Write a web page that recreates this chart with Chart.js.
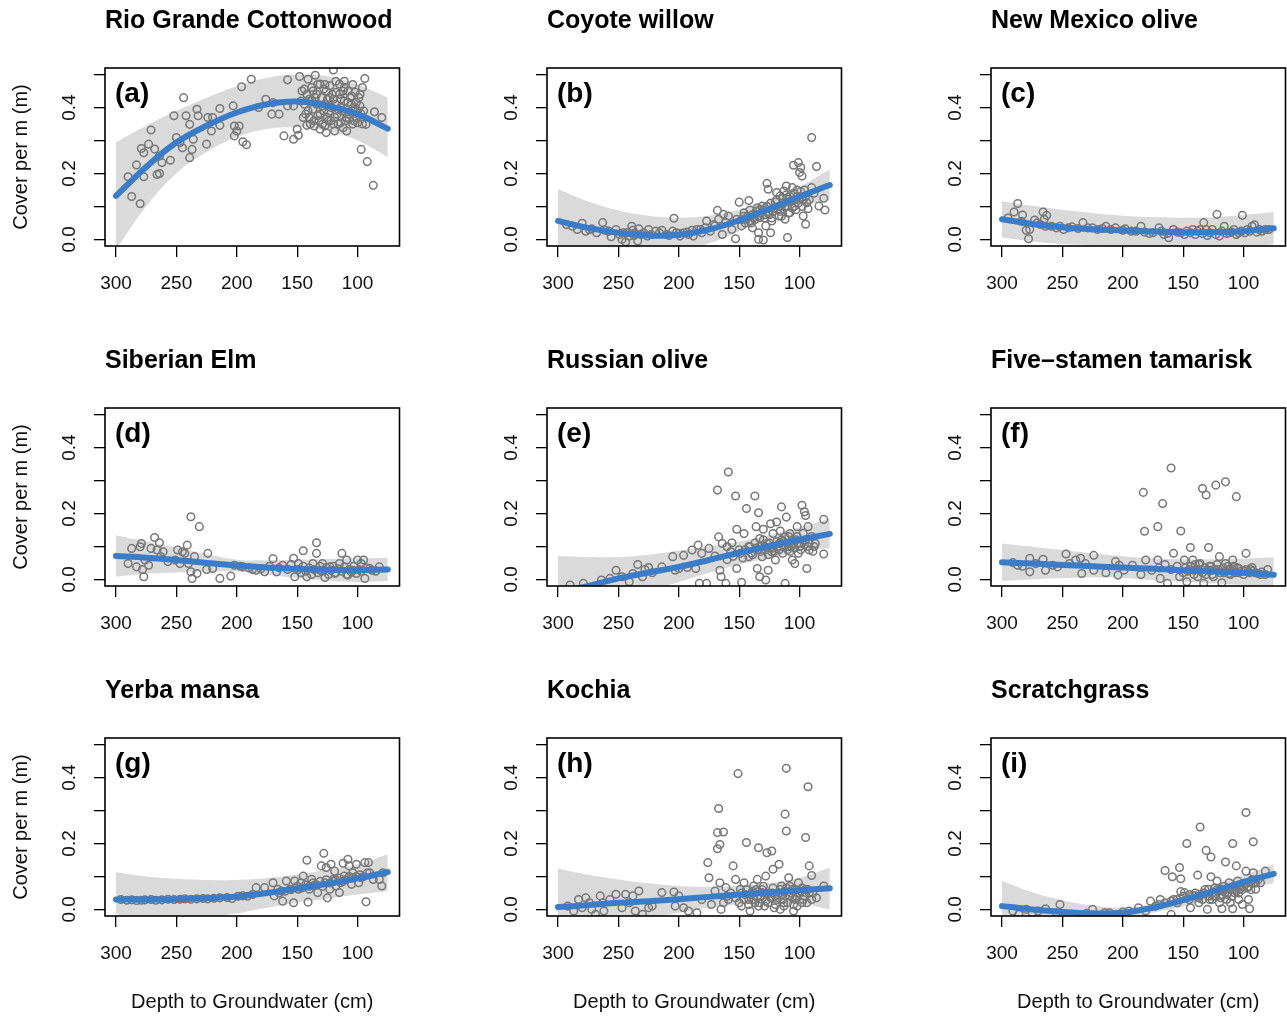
<!DOCTYPE html>
<html lang="en">
<head>
<meta charset="UTF-8">
<title>Cover per m vs depth to groundwater</title>
<script src="https://cdn.jsdelivr.net/npm/chart.js@4.4.1/dist/chart.umd.min.js"></script>
<style>
  html, body { margin: 0; padding: 0; background: #fff; }
  #grid { position: relative; width: 1287px; height: 1016px; overflow: hidden; }
  .panel { position: absolute; }
</style>
</head>
<body>
<div id="grid"></div>
<script>
// ticks shared by every panel
const xTicks = [300, 250, 200, 150, 100];
const yTicks = [0, 0.1, 0.2, 0.3, 0.4, 0.5];
const yTickLabels = ["0.0", "", "0.2", "", "0.4", ""];

const fitDepth = [300, 275, 250, 225, 200, 175, 150, 125, 100, 75];

// (a) Rio Grande Cottonwood
const fitA = [0.132, 0.22, 0.294, 0.345, 0.385, 0.41, 0.418, 0.405, 0.38, 0.336];
const upperA = [0.295, 0.345, 0.39, 0.43, 0.465, 0.49, 0.5, 0.495, 0.47, 0.43];
const lowerA = [-0.03, 0.1, 0.2, 0.265, 0.31, 0.335, 0.34, 0.33, 0.3, 0.25];
const pointsA = [
  [290,0.19],[287,0.13],[283,0.226],[280,0.108],[277,0.19],[279,0.276],[277,0.263],[273,0.289],[271,0.332],
  [268,0.274],[266,0.197],[264,0.2],[264,0.253],[262,0.233],[255,0.24],[252,0.375],[250,0.309],[247,0.294],
  [245,0.278],[244,0.43],[242,0.375],[239,0.248],[239,0.349],[237,0.273],[236,0.304],[233,0.395],[232,0.375],
  [225,0.289],[224,0.37],[221,0.329],[220,0.37],[214,0.397],[214,0.346],[203,0.405],[202,0.344],[202,0.314],
  [200,0.329],[198,0.344],[196,0.463],[195,0.296],[192,0.287],[188,0.486],[182,0.4],[176,0.425],[171,0.38],
  [170,0.415],[165,0.38],[161,0.314],[158,0.484],[158,0.405],[153,0.405],[153,0.304],[150,0.334],[149,0.316],
  [148,0.494],[147,0.42],[145,0.37],[144,0.456],[142,0.346],[141,0.486],[140,0.425],[138,0.461],[137,0.395],
  [136,0.344],[135,0.498],[134,0.44],[133,0.375],[131,0.471],[131,0.334],[129,0.405],[128,0.456],[127,0.344],
  [126,0.324],[125,0.425],[124,0.385],[123,0.466],[122,0.36],[120,0.425],[120,0.514],[119,0.329],[118,0.446],
  [116,0.395],[115,0.471],[114,0.354],[114,0.425],[112,0.339],[111,0.461],[110,0.385],[109,0.329],[108,0.415],
  [107,0.365],[105,0.435],[104,0.39],[102,0.446],[101,0.415],[100,0.354],[98,0.405],[97,0.273],[96,0.461],
  [95,0.39],[94,0.488],[93,0.349],[92,0.236],[87,0.164],[86,0.387],[80,0.37],
  [144,0.41],[142,0.44],[140,0.37],[138,0.42],[137,0.45],[136,0.36],[134,0.41],[133,0.47],[131,0.38],
  [130,0.43],[129,0.35],[127,0.41],[126,0.45],[124,0.36],[122,0.4],[121,0.44],[119,0.37],[118,0.41],
  [116,0.35],[115,0.44],[113,0.39],[111,0.42],[110,0.36],[108,0.45],[107,0.38],[105,0.41],[104,0.35],
  [102,0.4],[101,0.37],[99,0.43],[97,0.38],[96,0.35],
  [141,0.39],[139,0.35],[135,0.43],[132,0.36],[128,0.39],[125,0.37],[123,0.43],[120,0.35],[117,0.38],
  [114,0.4],[112,0.45],[109,0.37],[106,0.43],[103,0.36],[100,0.39],[98,0.44],[146,0.45],[143,0.38],
  [127,0.47],[118,0.48],[111,0.48],[104,0.47]
];

// (b) Coyote willow
const fitB = [0.056, 0.035, 0.02, 0.012, 0.014, 0.03, 0.058, 0.093, 0.13, 0.165];
const upperB = [0.152, 0.115, 0.088, 0.072, 0.066, 0.072, 0.09, 0.12, 0.16, 0.212];
const lowerB = [-0.04, -0.045, -0.045, -0.045, -0.038, -0.012, 0.025, 0.065, 0.1, 0.118];
const pointsB = [
  [280,0.049],[288,0.04],[284,0.03],[277,0.025],[272,0.032],[268,0.02],[263,0.051],[261,0.028],[256,0.008],
  [252,0.03],[247,0.0],[246,0.02],[244,-0.008],[241,0.01],[239,0.04],[238,0.028],[236,0.018],[234,-0.005],
  [233,0.032],[229,0.02],[225,0.03],[223,0.015],[219,0.025],[214,0.028],[208,0.012],[204,0.064],[202,0.02],
  [199,0.01],[196,0.02],[192,0.015],[188,0.01],[185,0.03],[181,0.02],[177,0.056],[174,0.025],[170,0.041],
  [168,0.088],[167,0.061],[164,0.015],[163,0.076],[161,0.051],[159,0.071],[156,0.03],[153,0.002],[152,0.061],
  [150,0.113],[148,0.041],[146,0.081],[144,0.061],[142,0.118],[141,0.089],[139,0.035],[138,0.066],[135,0.096],
  [134,0.0],[134,0.02],[133,0.066],[131,0.101],[130,-0.002],[128,0.041],[127,0.17],[126,0.152],[126,0.081],
  [124,0.02],[123,0.056],[120,0.113],[119,0.142],[117,0.071],[116,0.132],[115,0.101],[113,0.147],[112,0.061],
  [111,0.162],[110,0.006],[109,0.122],[108,0.081],[106,0.157],[105,0.225],[104,0.101],[102,0.15],[101,0.233],
  [100,0.203],[99,0.218],[98,0.192],[97,0.071],[95,0.046],[94,0.111],[93,0.093],[90,0.309],[90,0.157],
  [86,0.221],[84,0.101],[80,0.125],[79,0.089],
  [148,0.06],[145,0.05],[143,0.07],[141,0.055],[139,0.075],[137,0.06],[136,0.085],[134,0.07],[132,0.08],
  [130,0.09],[129,0.065],[127,0.1],[125,0.075],[124,0.11],[122,0.085],[121,0.095],[119,0.12],[117,0.1],
  [116,0.085],[114,0.125],[113,0.11],[111,0.135],[110,0.1],[108,0.13],[107,0.115],[105,0.14],[104,0.12],
  [102,0.13],[101,0.11],[99,0.145],[97,0.12],[96,0.15],
  [293,0.045],[274,0.03],[258,0.025],[249,0.015],[243,0.02],[237,0.012],[231,0.015],[226,0.01],[216,0.02],
  [210,0.015],[205,0.025],[200,0.018],[193,0.022],[189,0.028],[182,0.03],[178,0.035],[171,0.045],
  [146,0.07],[140,0.05],[133,0.09],[128,0.075],[123,0.065],[118,0.09],[115,0.07],[112,0.1],[109,0.08],
  [106,0.095],[103,0.09],[100,0.125],[98,0.1],[95,0.13],[92,0.12],[88,0.14]
];

// (c) New Mexico olive
const fitC = [0.061, 0.047, 0.037, 0.031, 0.027, 0.024, 0.022, 0.022, 0.025, 0.034];
const upperC = [0.116, 0.102, 0.09, 0.08, 0.072, 0.068, 0.066, 0.067, 0.074, 0.083];
const lowerC = [0.006, -0.006, -0.014, -0.018, -0.018, -0.02, -0.022, -0.023, -0.024, -0.015];
const pointsC = [
  [290,0.083],[287,0.109],[283,0.074],[280,0.028],[278,0.002],[277,0.03],[273,0.059],[266,0.083],[265,0.061],
  [263,0.073],[264,0.04],[255,0.035],[249,0.03],[242,0.038],[233,0.051],[225,0.035],[214,0.04],[206,0.035],
  [198,0.032],[189,0.025],[185,0.04],[178,0.018],[170,0.035],[166,0.015],[162,0.005],[158,0.03],[152,0.02],
  [147,0.025],[142,0.03],[140,0.015],[136,0.03],[133,0.051],[130,0.012],[126,0.03],[122,0.076],[120,0.01],
  [116,0.04],[112,0.02],[108,0.03],[104,0.02],[101,0.073],[97,0.03],[93,0.04],[91,0.044],[87,0.03],[82,0.03],
  [295,0.065],[284,0.055],[271,0.05],[268,0.045],[259,0.04],[252,0.04],[245,0.035],[237,0.033],[229,0.035],
  [221,0.03],[217,0.033],[210,0.03],[200,0.028],[193,0.025],[182,0.022],[175,0.02],[168,0.025],[163,0.018],
  [155,0.022],[149,0.015],[144,0.02],[138,0.025],[134,0.018],[131,0.03],[128,0.02],[123,0.015],[118,0.025],
  [114,0.018],[110,0.022],[106,0.015],[102,0.025],[99,0.02],[95,0.025],[89,0.022],[85,0.025],[79,0.03]
];

// (d) Siberian Elm
const fitD = [0.071, 0.066, 0.059, 0.05, 0.042, 0.036, 0.032, 0.029, 0.028, 0.03];
const upperD = [0.134, 0.115, 0.097, 0.077, 0.06, 0.058, 0.06, 0.062, 0.064, 0.065];
const lowerD = [0.008, 0.017, 0.021, 0.023, 0.024, 0.014, 0.004, -0.004, -0.008, -0.005];
const pointsD = [
  [290,0.048],[287,0.094],[283,0.038],[280,0.099],[279,0.109],[278,0.03],[277,0.008],[276,0.059],[273,0.043],
  [271,0.094],[268,0.127],[266,0.089],[264,0.111],[263,0.069],[261,0.084],[257,0.054],[251,0.059],[249,0.089],
  [247,0.048],[245,0.084],[243,0.079],[241,0.104],[240,0.048],[238,0.023],[238,0.19],[237,0.003],[235,0.069],
  [233,0.018],[231,0.16],[224,0.079],[225,0.03],[220,0.033],[214,0.003],[205,0.01],[202,0.043],[195,0.038],
  [184,0.028],[177,0.023],[170,0.063],[167,0.023],[162,0.043],[153,0.064],[152,0.008],[149,0.048],[145,0.087],
  [142,0.008],[137,0.048],[134,0.111],[134,0.079],[131,0.028],[129,0.048],[127,0.006],[123,0.038],[119,0.018],
  [115,0.048],[113,0.079],[109,0.059],[108,0.013],[104,0.028],[100,0.059],[97,0.048],[95,0.059],[94,0.003],
  [90,0.033],[82,0.038],
  [149,0.03],[147,0.02],[145,0.04],[143,0.025],[140,0.035],[138,0.015],[136,0.03],[133,0.02],[131,0.04],
  [129,0.025],[126,0.035],[124,0.015],[122,0.028],[120,0.04],[118,0.02],[116,0.032],[113,0.025],[111,0.038],
  [109,0.015],[107,0.03],[105,0.022],[103,0.04],[101,0.018],[99,0.03],[97,0.025],[93,0.035],[88,0.028],
  [85,0.025],[197,0.04],[190,0.035],[187,0.03],[180,0.032],[173,0.04],[165,0.035],[158,0.03],[155,0.045]
];

// (e) Russian olive
const fitE = [-0.04, -0.02, 0.003, 0.021, 0.038, 0.059, 0.081, 0.101, 0.121, 0.138];
const upperE = [0.071, 0.068, 0.068, 0.075, 0.088, 0.1, 0.115, 0.135, 0.158, 0.185];
const lowerE = [-0.15, -0.11, -0.07, -0.035, -0.008, 0.02, 0.045, 0.066, 0.085, 0.095];
const pointsE = [
  [290,-0.017],[279,-0.012],[264,-0.002],[257,0.003],[252,0.028],[247,0.008],[241,-0.007],[238,0.018],
  [234,0.045],[230,0.008],[228,0.03],[225,0.036],[222,0.02],[214,0.038],[205,0.069],[203,0.028],[200,0.033],
  [196,0.073],[193,0.036],[189,0.089],[186,0.033],[184,0.104],[183,-0.012],[181,0.079],[177,-0.012],
  [175,0.094],[170,0.071],[168,0.271],[167,0.129],[166,0.028],[165,0.008],[164,0.109],[161,-0.012],
  [160,0.099],[159,0.326],[157,0.084],[156,0.111],[153,0.253],[152,0.152],[152,0.033],[149,0.079],
  [148,-0.009],[146,0.139],[144,0.215],[142,0.069],[141,0.099],[137,0.253],[136,0.16],[135,0.033],
  [134,0.202],[133,0.008],[133,0.124],[131,0.069],[130,0.152],[128,-0.002],[127,0.109],[126,0.028],
  [124,0.169],[123,0.084],[122,0.139],[120,0.059],[119,0.174],[117,0.109],[116,0.147],[115,0.22],
  [114,0.079],[112,0.129],[112,-0.012],[111,0.189],[109,0.099],[108,0.139],[106,0.059],[105,0.109],
  [104,0.048],[102,0.16],[101,0.079],[98,0.225],[96,0.205],[95,0.194],[94,0.033],[93,0.16],[92,0.089],
  [87,0.109],[80,0.182],[80,0.077],
  [128,0.09],[126,0.075],[123,0.1],[121,0.085],[119,0.115],[117,0.09],[115,0.12],[113,0.1],[111,0.11],
  [109,0.13],[108,0.085],[106,0.12],[104,0.095],[102,0.13],[100,0.11],[99,0.09],[97,0.14],[95,0.12],
  [93,0.1],[90,0.13],[88,0.1],[145,0.09],[142,0.1],[139,0.075],[137,0.11],[135,0.09],[133,0.1],[130,0.12],
  [160,0.06],[155,0.07],[150,0.09],[147,0.065],[140,0.08],[136,0.095],[132,0.085],[129,0.1],[125,0.11],
  [122,0.095],[118,0.1],[114,0.115],[110,0.09],[107,0.1],[103,0.12],[100,0.1],[96,0.105],[92,0.11],[89,0.085]
];

// (f) Five-stamen tamarisk
const fitF = [0.052, 0.048, 0.044, 0.04, 0.036, 0.032, 0.028, 0.024, 0.02, 0.014];
const upperF = [0.109, 0.099, 0.089, 0.079, 0.07, 0.064, 0.061, 0.061, 0.063, 0.067];
const lowerF = [-0.004, 0.0, 0.004, 0.006, 0.004, -0.002, -0.007, -0.012, -0.018, -0.03];
const pointsF = [
  [291,0.051],[287,0.043],[283,0.04],[277,0.064],[277,0.023],[272,0.048],[266,0.061],[264,0.028],[258,0.043],
  [254,0.038],[247,0.077],[244,0.048],[239,0.059],[235,0.064],[234,0.018],[231,0.048],[224,0.073],[224,0.028],
  [214,0.02],[206,0.054],[204,0.013],[203,0.043],[199,0.028],[192,0.043],[185,0.015],[183,0.264],[182,0.146],
  [181,0.059],[176,0.028],[171,0.059],[171,0.16],[169,0.003],[167,0.23],[163,-0.012],[160,0.338],[158,0.079],
  [153,0.008],[152,0.147],[149,0.059],[147,-0.007],[144,0.097],[142,0.059],[141,0.028],[138,0.008],[136,0.048],
  [134,0.276],[133,-0.012],[131,0.256],[129,0.097],[127,0.028],[125,0.008],[123,0.286],[120,0.069],[118,-0.01],
  [115,0.296],[115,0.048],[112,0.018],[109,0.059],[106,0.251],[104,0.033],[98,0.079],[96,0.023],[93,0.036],
  [80,0.03],
  [150,0.02],[148,0.035],[146,0.025],[144,0.04],[141,0.015],[139,0.03],[137,0.045],[134,0.02],[132,0.035],
  [130,0.028],[128,0.04],[126,0.015],[124,0.03],[122,0.045],[119,0.02],[117,0.035],[115,0.025],[113,0.04],
  [111,0.015],[109,0.03],[107,0.02],[105,0.035],[102,0.025],[100,0.015],[98,0.03],[95,0.02],[92,0.025],
  [88,0.018],[85,0.022],[82,0.015],
  [145,0.03],[140,0.045],[135,0.03],[131,0.015],[127,0.04],[121,0.03],[116,0.02],[112,0.03],[108,0.04],
  [104,0.02],[99,0.025],[94,0.03],[90,0.02],[86,0.015],[160,0.03],[155,0.04],[165,0.045],[170,0.035]
];

// (g) Yerba mansa
const fitG = [0.03, 0.03, 0.031, 0.034, 0.039, 0.05, 0.063, 0.078, 0.094, 0.113];
const upperG = [0.113, 0.1, 0.093, 0.089, 0.089, 0.095, 0.106, 0.12, 0.137, 0.167];
const lowerG = [-0.015, -0.03, -0.03, -0.025, -0.012, 0.005, 0.02, 0.032, 0.045, 0.056];
const pointsG = [
  [296,0.03],[291,0.028],[287,0.029],[283,0.027],[279,0.028],[276,0.029],[271,0.03],[267,0.028],[262,0.029],
  [257,0.031],[252,0.03],[247,0.031],[243,0.032],[238,0.031],[233,0.032],[228,0.033],[224,0.032],[219,0.034],
  [214,0.035],[208,0.036],[204,0.033],[199,0.04],[195,0.041],[191,0.04],[187,0.045],
  [184,0.066],[177,0.066],[170,0.081],[169,0.041],[166,0.061],[163,0.056],[162,0.025],[159,0.086],[156,0.061],
  [153,0.02],[152,0.086],[149,0.061],[147,0.081],[145,0.101],[142,0.149],[141,0.022],[140,0.061],[138,0.091],
  [136,0.073],[133,0.051],[130,0.132],[128,0.17],[127,0.081],[126,0.127],[125,0.035],[123,0.061],[122,0.137],
  [120,0.091],[119,0.116],[118,0.071],[115,0.051],[114,0.081],[112,0.14],[111,0.101],[108,0.152],[107,0.132],
  [105,0.076],[104,0.111],[101,0.137],[99,0.081],[97,0.096],[94,0.142],[93,0.023],[91,0.142],[90,0.111],
  [87,0.091],[82,0.091],[80,0.071],[79,0.111],
  [165,0.05],[160,0.055],[155,0.06],[150,0.07],[146,0.065],[143,0.075],[140,0.07],[137,0.08],[134,0.075],
  [131,0.085],[129,0.07],[126,0.09],[123,0.08],[120,0.085],[118,0.09],[115,0.095],[112,0.085],[110,0.09],
  [107,0.1],[104,0.095],[101,0.1],[98,0.105],[95,0.1],[92,0.11]
];

// (h) Kochia
const fitH = [0.007, 0.013, 0.02, 0.025, 0.031, 0.038, 0.045, 0.052, 0.058, 0.064];
const upperH = [0.124, 0.105, 0.091, 0.079, 0.071, 0.069, 0.072, 0.08, 0.096, 0.127];
const lowerH = [-0.11, -0.08, -0.05, -0.03, -0.01, 0.005, 0.015, 0.02, 0.018, 0.0];
const pointsH = [
  [292,0.01],[287,-0.005],[283,0.03],[280,0.005],[277,0.035],[274,0.02],[272,0.0],[269,-0.015],[265,0.041],
  [263,0.02],[262,-0.005],[257,0.03],[252,0.046],[247,0.005],[244,0.046],[241,0.02],[238,0.041],[236,-0.005],
  [233,0.056],[230,-0.015],[225,0.005],[222,0.01],[214,0.051],[204,0.053],[203,0.01],[200,0.041],[196,0.005],
  [192,-0.005],[185,-0.01],[181,0.03],[176,0.142],[175,0.096],[173,0.015],[170,0.056],[168,0.184],[168,0.233],
  [167,0.306],[166,0.081],[166,0.197],[165,0.0],[163,0.235],[161,0.066],[159,0.03],[155,0.132],[153,0.091],
  [151,0.412],[149,0.061],[148,0.01],[146,0.081],[144,0.203],[142,0.03],[141,-0.005],[138,0.071],[135,0.091],
  [134,0.187],[133,0.02],[131,0.051],[128,0.101],[127,0.172],[126,0.02],[123,0.177],[122,0.122],[120,0.041],
  [117,0.137],[116,0.0],[115,0.071],[113,0.02],[112,0.289],[111,0.428],[111,0.238],[109,0.096],[108,0.041],
  [106,0.061],[105,-0.005],[104,0.03],[101,0.081],[98,0.02],[95,0.061],[95,0.218],[93,0.372],[92,0.132],
  [90,0.103],[86,0.035],[80,0.071],
  [150,0.02],[148,0.05],[146,0.03],[144,0.06],[142,0.015],[140,0.045],[138,0.03],[136,0.06],[134,0.01],
  [132,0.04],[130,0.07],[128,0.025],[126,0.05],[124,0.035],[122,0.065],[120,0.015],[118,0.045],[116,0.06],
  [114,0.03],[112,0.055],[110,0.02],[108,0.07],[106,0.035],[104,0.06],[102,0.01],[100,0.05],[98,0.065],
  [96,0.04],[94,0.02],[92,0.05],[90,0.03],[160,0.04],[163,0.02],[157,0.05],[153,0.035],
  [145,0.045],[139,0.055],[135,0.035],[131,0.06],[127,0.045],[123,0.05],[119,0.03],[115,0.045],[111,0.065],
  [107,0.05],[103,0.04],[99,0.055],[97,0.03],[93,0.06],[89,0.05],[137,0.02],[129,0.01],[121,0.005],
  [113,0.01],[105,0.015]
];

// (i) Scratchgrass
const fitI = [0.01, 0.0, -0.008, -0.012, -0.01, 0.005, 0.028, 0.055, 0.083, 0.108];
const upperI = [0.086, 0.052, 0.028, 0.012, 0.006, 0.018, 0.048, 0.075, 0.104, 0.137];
const lowerI = [-0.066, -0.052, -0.044, -0.04, -0.035, -0.01, 0.008, 0.035, 0.062, 0.079];
const pointsI = [
  [291,-0.005],[286,-0.015],[275,-0.01],[264,0.002],[252,0.015],[242,-0.015],[225,0.0],[211,-0.01],
  [200,-0.008],[187,0.005],[181,-0.005],[177,0.025],[173,0.01],[169,0.03],[165,0.118],[160,-0.015],
  [159,0.099],[158,0.03],[155,0.02],[153,0.127],[152,0.093],[152,0.054],[149,0.051],[147,0.2],[145,0.03],
  [144,0.005],[142,0.041],[140,0.041],[138,0.104],[137,0.02],[136,0.25],[134,0.03],[131,0.179],[130,0.0],
  [129,0.061],[127,0.159],[127,0.099],[126,0.03],[123,0.041],[122,0.086],[120,0.02],[119,0.061],[118,0.002],
  [115,0.144],[115,0.061],[114,0.03],[112,0.081],[111,0.02],[109,0.2],[109,0.002],[108,0.051],[106,0.132],
  [105,0.086],[104,0.03],[103,0.061],[101,0.015],[98,0.294],[98,0.116],[96,0.03],[95,0.002],[94,0.081],
  [92,0.205],[92,0.111],[90,0.061],[86,0.081],[82,0.116],
  [140,0.05],[135,0.045],[132,0.06],[129,0.04],[126,0.05],[124,0.065],[121,0.055],[118,0.045],[116,0.07],
  [113,0.05],[111,0.06],[108,0.07],[106,0.055],[103,0.075],[101,0.06],[99,0.08],[96,0.07],[93,0.09],
  [90,0.08],[145,0.045],[150,0.04],[155,0.03],[160,0.025],[165,0.02],[170,0.015],[280,0.0],[270,-0.005],
  [255,-0.01],[230,-0.012],[215,-0.01],[195,-0.005],
  [137,0.035],[133,0.05],[128,0.03],[125,0.04],[122,0.06],[119,0.035],[117,0.055],[114,0.045],[110,0.04],
  [107,0.06],[104,0.05],[100,0.07],[97,0.065],[94,0.06],[91,0.08],[88,0.09]
];

const panels = [
  { title: "Rio Grande Cottonwood", tag: "(a)", points: pointsA, fit: fitA, upper: upperA, lower: lowerA },
  { title: "Coyote willow", tag: "(b)", points: pointsB, fit: fitB, upper: upperB, lower: lowerB },
  { title: "New Mexico olive", tag: "(c)", points: pointsC, fit: fitC, upper: upperC, lower: lowerC },
  { title: "Siberian Elm", tag: "(d)", points: pointsD, fit: fitD, upper: upperD, lower: lowerD },
  { title: "Russian olive", tag: "(e)", points: pointsE, fit: fitE, upper: upperE, lower: lowerE },
  { title: "Five\u2013stamen tamarisk", tag: "(f)", points: pointsF, fit: fitF, upper: upperF, lower: lowerF },
  { title: "Yerba mansa", tag: "(g)", points: pointsG, fit: fitG, upper: upperG, lower: lowerG },
  { title: "Kochia", tag: "(h)", points: pointsH, fit: fitH, upper: upperH, lower: lowerH },
  { title: "Scratchgrass", tag: "(i)", points: pointsI, fit: fitI, upper: upperI, lower: lowerI },
];

// page layout (plot box positions in the 1287x1016 page)
const FONT = "'Liberation Sans', Arial, Helvetica, sans-serif";
const boxLefts = [105, 547, 991];
const boxTops = [68, 408, 738];
const BOX_W = 295;
const BOX_H = 178;
const AXIS_W = 105;
const TOP_H = 62;
const BOTTOM_H = 100;
const RIGHT_PAD = 5;

// box round the plot region and the panel letter
const framePlugin = {
  id: "frame",
  afterDraw(chart, args, opts) {
    const { ctx, chartArea: a } = chart;
    ctx.save();
    ctx.strokeStyle = "#000";
    ctx.lineWidth = 1.6;
    ctx.strokeRect(a.left, a.top, a.right - a.left, a.bottom - a.top);
    ctx.fillStyle = "#000";
    ctx.font = "bold 28px " + FONT;
    ctx.textBaseline = "alphabetic";
    ctx.textAlign = "left";
    ctx.fillText(opts.tag, a.left + 10, a.top + 34);
    ctx.restore();
  },
};

const grid = document.getElementById("grid");

function makePanel(p, i) {
  const col = i % 3;
  const row = Math.floor(i / 3);

  const div = document.createElement("div");
  div.className = "panel";
  div.style.left = (boxLefts[col] - AXIS_W) + "px";
  div.style.top = (boxTops[row] - TOP_H) + "px";
  const canvas = document.createElement("canvas");
  canvas.width = AXIS_W + BOX_W + RIGHT_PAD;
  canvas.height = TOP_H + BOX_H + BOTTOM_H;
  div.appendChild(canvas);
  grid.appendChild(div);

  const curve = (vals) => fitDepth.map((d, k) => ({ x: d, y: vals[k] }));

  new Chart(canvas, {
    type: "scatter",
    data: {
      datasets: [
        {
          type: "line",
          data: curve(p.upper),
          borderColor: "rgba(0,0,0,0)",
          borderWidth: 0,
          pointRadius: 0,
          tension: 0.4,
          fill: "+1",
          backgroundColor: "#dadada",
          order: 4,
        },
        {
          type: "line",
          data: curve(p.lower),
          borderColor: "rgba(0,0,0,0)",
          borderWidth: 0,
          pointRadius: 0,
          tension: 0.4,
          fill: false,
          order: 5,
        },
        {
          data: p.points.map((d) => ({ x: d[0], y: d[1] })),
          pointRadius: 3.8,
          pointBorderWidth: 1.5,
          pointBorderColor: "#777777",
          pointBackgroundColor: "rgba(0,0,0,0)",
          order: 2,
        },
        {
          type: "line",
          data: curve(p.fit),
          borderColor: "#3b7cc8",
          borderWidth: 6,
          borderCapStyle: "round",
          pointRadius: 0,
          tension: 0.4,
          fill: false,
          order: 1,
        },
      ],
    },
    options: {
      responsive: false,
      animation: false,
      events: [],
      layout: { padding: { right: RIGHT_PAD } },
      plugins: {
        legend: { display: false },
        tooltip: { enabled: false },
        title: {
          display: true,
          text: p.title,
          align: "start",
          fullSize: false,
          color: "#000",
          font: { family: FONT, size: 25, weight: "bold" },
          padding: { top: 0, bottom: 32 },
        },
        frame: { tag: p.tag },
      },
      scales: {
        x: {
          type: "linear",
          reverse: true,
          min: 65.3,
          max: 309.1,
          afterBuildTicks: (s) => { s.ticks = xTicks.map((v) => ({ value: v })); },
          afterFit: (s) => { s.height = BOTTOM_H; },
          border: { display: false },
          grid: { drawOnChartArea: false, drawTicks: true, tickLength: 11, color: "#000", lineWidth: 1.3 },
          ticks: {
            autoSkip: false,
            maxRotation: 0,
            padding: 15.4,
            color: "#111",
            font: { family: FONT, size: 19 },
            callback: (v) => String(v),
          },
          title: {
            display: row === 2,
            text: "Depth to Groundwater (cm)",
            color: "#111",
            font: { family: FONT, size: 20 },
            padding: { top: 0, bottom: 2 },
          },
        },
        y: {
          type: "linear",
          min: -0.02,
          max: 0.52,
          afterBuildTicks: (s) => { s.ticks = yTicks.map((v) => ({ value: v })); },
          afterFit: (s) => { s.width = AXIS_W; },
          border: { display: false },
          grid: { drawOnChartArea: false, drawTicks: true, tickLength: 11, color: "#000", lineWidth: 1.3 },
          ticks: {
            autoSkip: false,
            minRotation: 90,
            maxRotation: 90,
            crossAlign: "center",
            padding: 10.8,
            color: "#111",
            font: { family: FONT, size: 19 },
            callback: (v, k) => yTickLabels[k],
          },
          title: {
            display: col === 0,
            text: "Cover per m (m)",
            color: "#111",
            font: { family: FONT, size: 20 },
            padding: { top: 9, bottom: 0 },
          },
        },
      },
    },
    plugins: [framePlugin],
  });
}

panels.forEach(makePanel);
</script>
</body>
</html>
